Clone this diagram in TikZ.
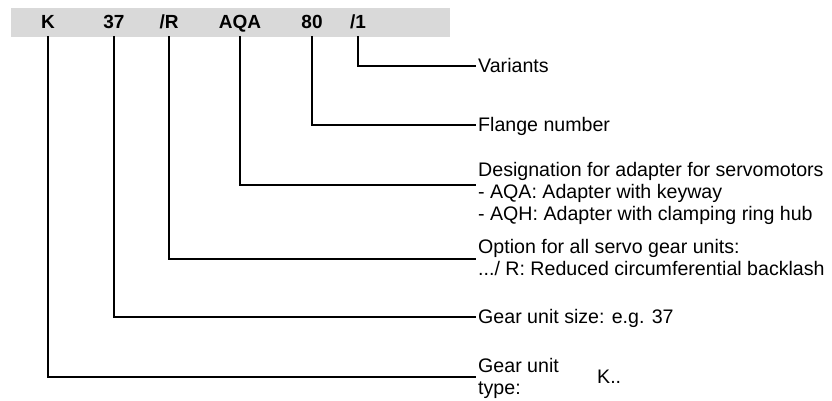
\documentclass[tikz,border=0pt]{standalone}
\usepackage{fontspec}
\setmainfont{Liberation Sans}
\definecolor{barfill}{RGB}{217,217,217}
\begin{document}
\begin{tikzpicture}[x=1pt,y=-1pt,
  code/.style={font=\fontsize{19}{22}\selectfont\bfseries, inner sep=0pt, anchor=base},
  desc/.style={font=\fontsize{19.6}{22}\selectfont, inner sep=0pt, anchor=base west},
  lead/.style={line width=2pt, line cap=rect}]
\useasboundingbox (0,0) rectangle (832,400);
\node[fill=barfill, minimum width=439pt, minimum height=29pt, inner sep=0pt, anchor=north west] (bar) at (11,8) {};
\node[code] (cK) at (48,28) {K};
\node[code] (c37) at (114,28) {37};
\node[code] (cR) at (169,28) {/R};
\node[code] (cAQA) at (240,28) {AQA};
\node[code] (c80) at (312,28) {80};
\node[code] (c1) at (358,28) {/1};
% leader end points
\coordinate (e1) at (475,66);
\coordinate (e2) at (475,125);
\coordinate (e3) at (475,185);
\coordinate (e4) at (475,259);
\coordinate (e5) at (475,317);
\coordinate (e6) at (475,377);
\draw[lead] (c1.south |- bar.south) |- (e1);
\draw[lead] (c80.south |- bar.south) |- (e2);
\draw[lead] (cAQA.south |- bar.south) |- (e3);
\draw[lead] (cR.south |- bar.south) |- (e4);
\draw[lead] (c37.south |- bar.south) |- (e5);
\draw[lead] (cK.south |- bar.south) |- (e6);
% descriptions
\node[desc] (d1) at (478,72.5) {Variants};
\node[desc] (d2) at (478,131.5) {Flange number};
\node[desc] (d3a) at (478,176) {Designation for adapter for servomotors};
\node[desc] (d3b) at (478,198) {- AQA: Adapter with keyway};
\node[desc] (d3c) at (478,220) {- AQH: Adapter with clamping ring hub};
\node[desc] (d4a) at (478,253) {Option for all servo gear units:};
\node[desc] (d4b) at (478,275) {.../ R: Reduced circumferential backlash};
\node[desc] (d5) at (478,323.5) {Gear unit size: e.g. 37};
\node[desc] (d6a) at (478,372) {Gear unit};
\node[desc] (d6b) at (478,394) {type:};
\node[desc] (d6c) at (597,383) {K..};
\end{tikzpicture}
\end{document}
